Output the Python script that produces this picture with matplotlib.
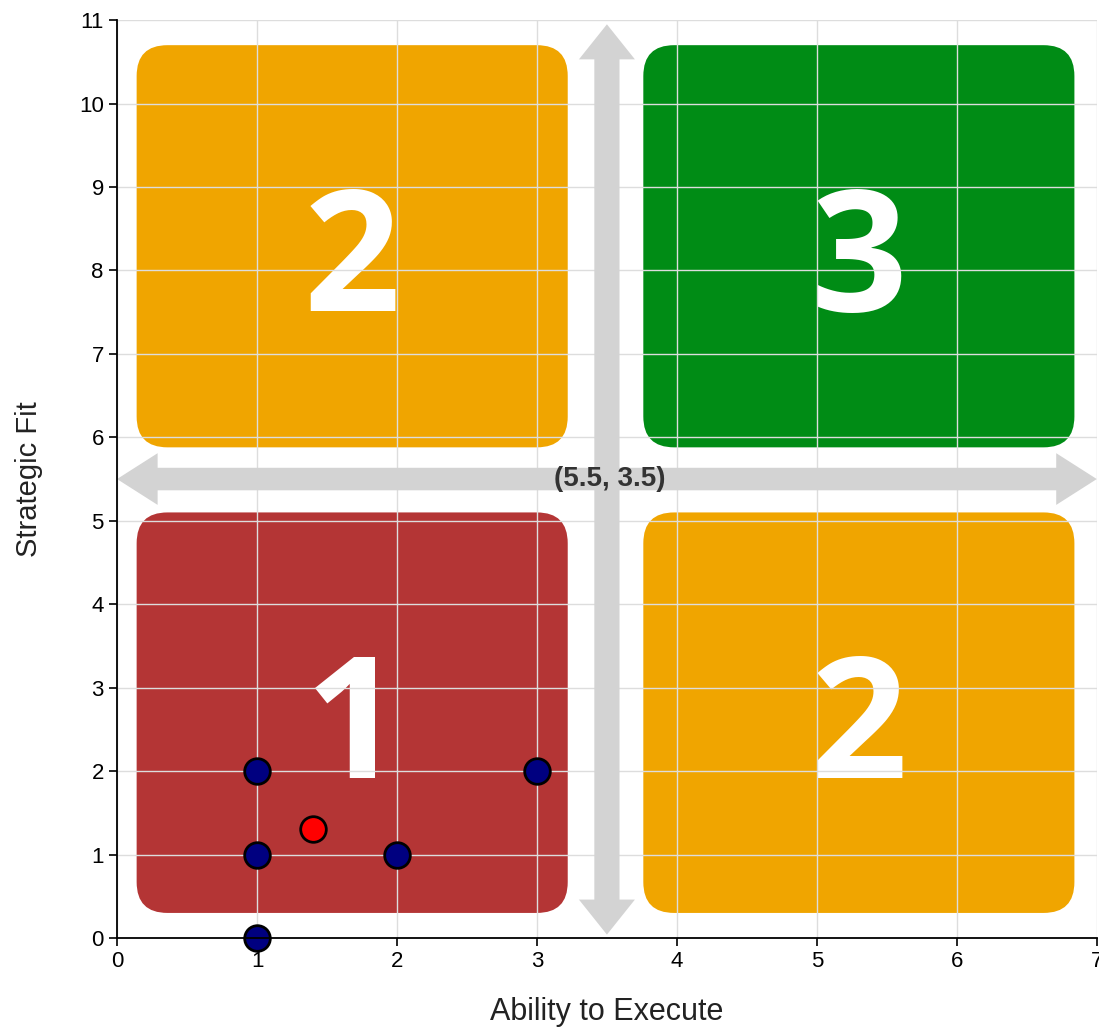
import matplotlib.pyplot as plt
from matplotlib.patches import FancyBboxPatch, FancyArrow

plt.rcParams['font.family'] = ['Liberation Sans', 'DejaVu Sans']

# quadrant boxes: (x0, y0, x1, y1), colour, score
box_extents = [(0.14, 5.88, 3.22, 10.7), (3.76, 5.88, 6.84, 10.7),
               (0.14, 0.3, 3.22, 5.1), (3.76, 0.3, 6.84, 5.1)]
box_colors = ['#f0a500', '#008c15', '#b43535', '#f0a500']
box_scores = ['2', '3', '1', '2']

# projects
proj_x = [1, 1, 2, 3, 1]
proj_y = [2, 1, 1, 2, 0]
avg_x = [1.4]
avg_y = [1.3]

# split point of the matrix
mid_x, mid_y = 3.5, 5.5
center_label = '(5.5, 3.5)'

fig = plt.figure(figsize=(10.99, 10.33), dpi=100)
ax = fig.add_axes([0.1065, 0.092, 0.8915, 0.8885])
ax.set_xlim(0, 7)
ax.set_ylim(0, 11)

for (x0, y0, x1, y1), c, s in zip(box_extents, box_colors, box_scores):
    ax.add_patch(FancyBboxPatch((x0, y0), x1 - x0, y1 - y0,
                                boxstyle='round,pad=0,rounding_size=0.22',
                                mutation_aspect=1.68, fc=c, ec='none', zorder=1))
    ax.text((x0 + x1) / 2, (y0 + y1) / 2 - 0.78, s, color='white',
            fontsize=122, fontweight='bold', family='Open Sans',
            ha='center', va='baseline', zorder=2)

# double-headed grey arrows through the split point
grey = '#d3d3d3'
for end in (0, 7):
    ax.add_patch(FancyArrow(mid_x, mid_y, end - mid_x, 0, width=0.27,
                            head_width=0.62, head_length=0.29,
                            length_includes_head=True, color=grey, lw=0,
                            zorder=3, clip_on=False))
for end in (0.04, 10.95):
    ax.add_patch(FancyArrow(mid_x, mid_y, 0, end - mid_y, width=0.18,
                            head_width=0.4, head_length=0.42,
                            length_includes_head=True, color=grey, lw=0,
                            zorder=3, clip_on=False))
ax.text(mid_x + 0.02, mid_y, center_label, fontsize=20, fontweight='bold',
        color='#333333', ha='center', va='center', zorder=4)

ax.set_axisbelow(False)
ax.grid(True, color='#dddddd', lw=1.0, zorder=5)
for gl in ax.get_xgridlines() + ax.get_ygridlines():
    gl.set_zorder(5)

ax.scatter(proj_x, proj_y, s=340, c='#000080', edgecolors='black',
           linewidths=2, zorder=6, clip_on=False)
ax.scatter(avg_x, avg_y, s=340, c='#ff0000', edgecolors='black',
           linewidths=2, zorder=6, clip_on=False)

ax.set_xticks(range(0, 8))
ax.set_yticks(range(0, 12))
ax.tick_params(labelsize=16, length=6, width=1.2, colors='black')
for side in ('top', 'right'):
    ax.spines[side].set_visible(False)
for side in ('left', 'bottom'):
    ax.spines[side].set_linewidth(1.3)
    ax.spines[side].set_zorder(7)

ax.set_xlabel('Ability to Execute', fontsize=22, color='#222222', labelpad=18)
ax.set_ylabel('Strategic Fit', fontsize=21, color='#222222', labelpad=26)

fig.savefig('out.png', dpi=100)
